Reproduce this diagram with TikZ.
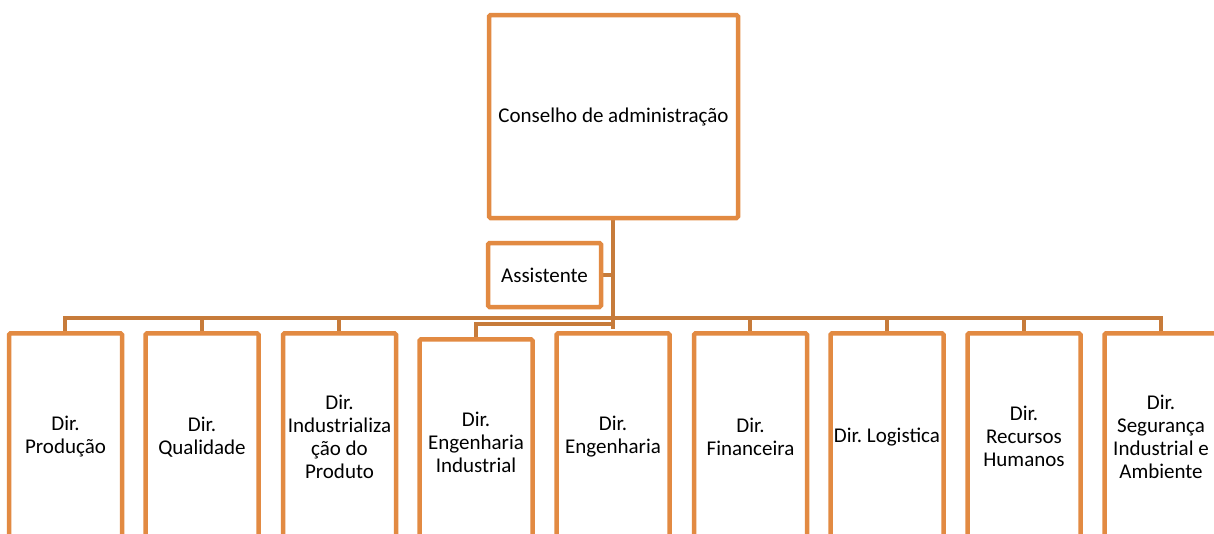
\documentclass[tikz,border=0pt]{standalone}
\usepackage{fontspec}
\setmainfont{Carlito}
\frenchspacing
\definecolor{boxor}{HTML}{E28A42}
\definecolor{connor}{HTML}{C77B3A}
\begin{document}
\begin{tikzpicture}[x=1pt,y=-1pt,
  every node/.style={font=\fontsize{21}{23}\selectfont, align=center, inner sep=0pt},
  orgbox/.style={draw=boxor, line width=4.5pt, fill=white, rounded corners=1.5pt},
  child/.style={orgbox, minimum width=113pt, minimum height=207pt, anchor=north},
  conn/.style={draw=connor, line width=4.5pt}]
\useasboundingbox (0,0) rectangle (1214,533);
\clip (0,0) rectangle (1214,533);
% connectors
\coordinate (busL) at (65,318);
\coordinate (busR) at (1161,318);
\coordinate (ei) at (613,324);
\draw[conn] (613,218) -- (613,329);
\draw[conn] (busL) -- (busR);
\draw[conn] (601,275) -- (613,275);
\draw[conn] (ei) -- (476,324) -- (476,337);
\foreach \x in {65,202,339,750,887,1024,1161} \draw[conn] (\x,316) -- (\x,331);
% boxes
\node[orgbox, minimum width=249pt, minimum height=203pt] (top) at (613.5,116.5) {Conselho de administração};
\node[orgbox, minimum width=113pt, minimum height=64pt] (assist) at (544.5,275) {Assistente};
\node[child] (prod) at (65.5,331) {Dir.\\Produção};
\node[child] (qual) at (202,331) {Dir.\\Qualidade};
\node[child] (indp) at (339.5,331) {Dir.\\Industrializa\\ção do\\Produto};
\node[child] (engi) at (476,337) {Dir.\\Engenharia\\Industrial};
\node[child] (eng) at (613,331) {Dir.\\Engenharia};
\node[child] (fin) at (750.5,331) {Dir.\\Financeira};
\node[child] (log) at (887,331) {Dir. Logistica};
\node[child] (rh) at (1024,331) {Dir.\\Recursos\\Humanos};
\node[child] (seg) at (1161,331) {Dir.\\Segurança\\Industrial e\\Ambiente};
\end{tikzpicture}
\end{document}
